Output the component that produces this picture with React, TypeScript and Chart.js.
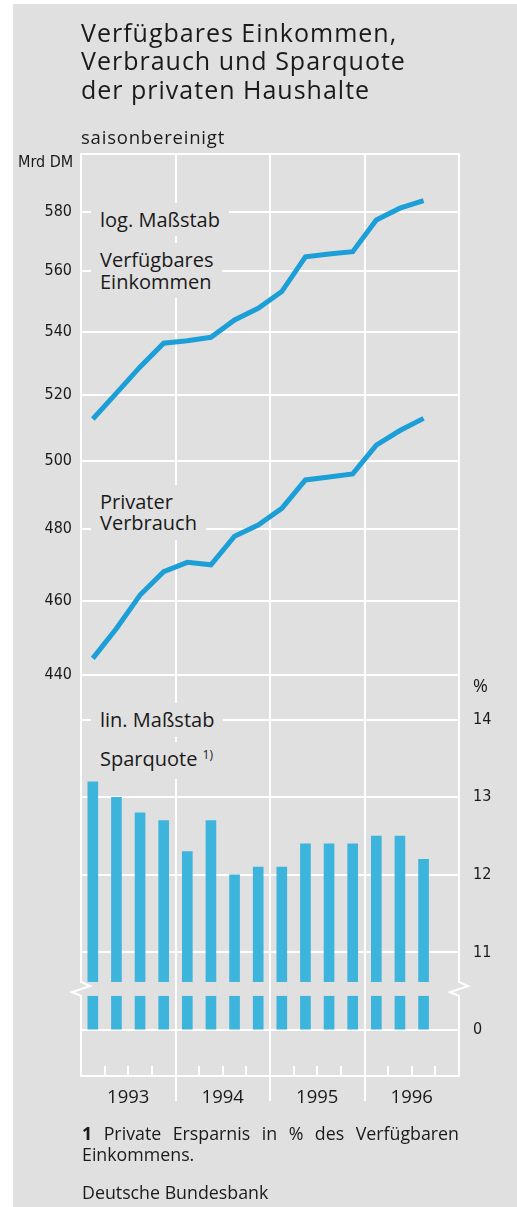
import React, { useEffect, useRef } from 'react';
import { Chart, registerables, LinearScale } from 'chart.js';

Chart.register(...registerables);

// ---------- data ----------
const quarterLabels = [
  '1993 Q1', '1993 Q2', '1993 Q3', '1993 Q4',
  '1994 Q1', '1994 Q2', '1994 Q3', '1994 Q4',
  '1995 Q1', '1995 Q2', '1995 Q3', '1995 Q4',
  '1996 Q1', '1996 Q2', '1996 Q3', '1996 Q4',
];
const yearLabels = ['1993', '1994', '1995', '1996'];
// Verfügbares Einkommen, Mrd DM (log scale)
const incomeValues = [512.6, 520.6, 528.8, 536.3, 537.1, 538.2, 543.8, 547.6, 553.1, 564.7, 565.6, 566.4, 577.2, 581.3, 583.9, null];
// Privater Verbrauch, Mrd DM (log scale)
const consumptionValues = [444.4, 452.4, 461.5, 468.0, 470.6, 469.9, 478.0, 481.2, 486.0, 494.3, 495.2, 496.1, 504.7, 509.1, 512.8, null];
// Sparquote, %
const savingRateValues = [13.2, 13.0, 12.8, 12.7, 12.3, 12.7, 12.0, 12.1, 12.1, 12.4, 12.4, 12.4, 12.5, 12.5, 12.2, null];
const logTicks = [440, 460, 480, 500, 520, 540, 560, 580];
const pctTicks = [0, 11, 12, 13, 14];

// ---------- styling ----------
const BG = '#e0e0e0';
const GRID = '#ffffff';
const LINE = '#1c9fd7';
const BAR = '#3db4db';
const TEXT = '#1a1a1a';
const SANS = "'Open Sans', 'Noto Sans', sans-serif";
const NARROW = "'Liberation Sans Narrow', 'DejaVu Sans Condensed', Roboto, sans-serif";

// broken percent axis: values between BREAK_LOW and BREAK_HIGH are cut out
const BREAK_LOW = 0.5;
const BREAK_HIGH = 10.5;
const CUT_TOP = 10.62;
const CUT_BOTTOM = 0.44;
const toU = (v: number) => (v <= BREAK_LOW ? v : v >= BREAK_HIGH ? v - (BREAK_HIGH - BREAK_LOW) : BREAK_LOW);
const fromU = (u: number) => (u <= BREAK_LOW ? u : u + (BREAK_HIGH - BREAK_LOW));

class BrokenLinearScale extends LinearScale {
  static id = 'brokenLinear';
  static defaults = {};
  determineDataLimits() {
    // @ts-ignore
    this.min = toU(this.options.min);
    // @ts-ignore
    this.max = toU(this.options.max);
  }
  buildTicks() {
    return pctTicks.map((v) => ({ value: v }));
  }
  getPixelForValue(value: any) {
    if (value === null || value === undefined) return NaN;
    return super.getPixelForValue(toU(value));
  }
  getValueForPixel(pixel: number) {
    return fromU(super.getValueForPixel(pixel));
  }
}
Chart.register(BrokenLinearScale as any);

const decorPlugin = {
  id: 'decor',
  afterDatasetsDraw(chart: any) {
    const { ctx, chartArea } = chart;
    const { left, right, top, bottom } = chartArea;
    const pct = chart.scales.yPct;
    const xs = chart.scales.x;
    const yA = pct.getPixelForValue(CUT_TOP);
    const yB = pct.getPixelForValue(CUT_BOTTOM);
    ctx.save();
    // cut the bars at the axis break
    ctx.fillStyle = BG;
    const meta = chart.getDatasetMeta(0);
    meta.data.forEach((bar: any) => {
      if (!bar || isNaN(bar.x) || isNaN(bar.y)) return;
      const w = bar.width;
      ctx.fillRect(bar.x - w / 2 - 1, yA, w + 2, yB - yA);
    });
    // frame with break marks
    ctx.strokeStyle = GRID;
    ctx.lineWidth = 2;
    ctx.lineJoin = 'miter';
    ctx.lineCap = 'square';
    ctx.beginPath();
    ctx.moveTo(left, top);
    ctx.lineTo(right, top);
    ctx.moveTo(left, bottom);
    ctx.lineTo(right, bottom);
    const h = yB - yA;
    [left, right].forEach((sx) => {
      ctx.moveTo(sx, top);
      ctx.lineTo(sx, yA);
      ctx.lineTo(sx + 9, yA + 0.3 * h);
      ctx.lineTo(sx - 9, yA + 0.72 * h);
      ctx.lineTo(sx, yB);
      ctx.lineTo(sx, bottom);
    });
    ctx.stroke();
    // quarter tick marks inside the bottom edge
    ctx.lineCap = 'butt';
    ctx.beginPath();
    for (let i = 1; i < quarterLabels.length; i++) {
      if (i % 4 === 0) continue;
      const xb = Math.round((xs.getPixelForTick(i - 1) + xs.getPixelForTick(i)) / 2);
      ctx.moveTo(xb, bottom - 10);
      ctx.lineTo(xb, bottom);
    }
    ctx.stroke();
    ctx.restore();
  },
};

const isYearLine = (c: any) => c && typeof c.index === 'number' && c.index > 0 && c.index % 4 === 0;

function ChartCanvas() {
  const ref = useRef<HTMLCanvasElement | null>(null);
  useEffect(() => {
    if (!ref.current) return;
    const chart = new Chart(ref.current, {
      type: 'bar',
      data: {
        labels: quarterLabels,
        datasets: [
          {
            type: 'bar',
            label: 'Sparquote',
            data: savingRateValues,
            yAxisID: 'yPct',
            backgroundColor: BAR,
            borderWidth: 0,
            barThickness: 10,
            order: 3,
          } as any,
          {
            type: 'line',
            label: 'Verfügbares Einkommen',
            data: incomeValues,
            yAxisID: 'yLog',
            borderColor: LINE,
            borderWidth: 5,
            pointRadius: 0,
            tension: 0,
            fill: false,
            borderJoinStyle: 'miter',
            order: 1,
          } as any,
          {
            type: 'line',
            label: 'Privater Verbrauch',
            data: consumptionValues,
            yAxisID: 'yLog',
            borderColor: LINE,
            borderWidth: 5,
            pointRadius: 0,
            tension: 0,
            fill: false,
            borderJoinStyle: 'miter',
            order: 2,
          } as any,
        ],
      },
      options: {
        responsive: false,
        animation: false,
        devicePixelRatio: 1,
        layout: { padding: { top: 154, left: 0, right: 0, bottom: 0 } },
        plugins: {
          legend: { display: false },
          tooltip: { enabled: false },
          title: { display: false },
        },
        scales: {
          x: {
            type: 'category',
            position: 'bottom',
            offset: true,
            grid: {
              offset: true,
              color: (c: any) => (isYearLine(c) ? GRID : 'rgba(0,0,0,0)'),
              tickColor: (c: any) => (isYearLine(c) ? GRID : 'rgba(0,0,0,0)'),
              lineWidth: 2,
              drawTicks: true,
              tickLength: 25,
            },
            border: { display: false },
            ticks: {
              autoSkip: false,
              maxRotation: 0,
              minRotation: 0,
              labelOffset: 11.8,
              padding: -14.5,
              color: TEXT,
              font: { family: SANS, size: 18.5 },
              callback: (_v: any, i: number) => (i % 4 === 1 ? yearLabels[Math.floor(i / 4)] : ''),
            },
            afterFit: (s: any) => {
              s.height = 131;
            },
          },
          yLog: {
            type: 'logarithmic',
            position: 'left',
            min: 346.4,
            max: 600.4,
            afterBuildTicks: (s: any) => {
              s.ticks = logTicks.map((v) => ({ value: v }));
            },
            grid: { color: GRID, lineWidth: 2, drawTicks: false },
            border: { display: false },
            ticks: {
              padding: 9,
              color: TEXT,
              font: { family: NARROW, size: 16 },
              callback: (v: any) => String(v),
            },
            afterFit: (s: any) => {
              s.width = 81;
            },
          },
          yPct: {
            type: 'brokenLinear',
            position: 'right',
            min: -0.592,
            max: 21.29,
            grid: { color: GRID, lineWidth: 2, drawTicks: false },
            border: { display: false },
            ticks: {
              padding: 14,
              color: TEXT,
              font: { family: NARROW, size: 16 },
              callback: (v: any) => String(v),
            },
            afterFit: (s: any) => {
              s.width = 58;
            },
          },
        } as any,
      },
      plugins: [decorPlugin],
    } as any);
    return () => chart.destroy();
  }, []);
  return <canvas ref={ref} width={517} height={1207} style={{ position: 'absolute', left: 0, top: 0 }} />;
}

const base: React.CSSProperties = {
  position: 'absolute',
  margin: 0,
  color: TEXT,
  fontFamily: SANS,
  whiteSpace: 'pre',
};

const boxStyle = (left: number, top: number): React.CSSProperties => ({
  ...base,
  left,
  top,
  padding: '6px 9px',
  background: BG,
  fontSize: 20,
  lineHeight: '21.7px',
});

export default function App() {
  return (
    <div style={{ position: 'relative', width: 517, height: 1207, background: '#ffffff', overflow: 'hidden' }}>
      <style>{'body{margin:0}'}</style>
      <div style={{ position: 'absolute', left: 13, top: 4, right: 0, bottom: 0, background: BG }} />
      <ChartCanvas />
      <div style={{ ...base, left: 81, top: 18, fontSize: 25, lineHeight: '28.3px', letterSpacing: '1px' }}>
        {'Verfügbares Einkommen,\nVerbrauch und Sparquote\nder privaten Haushalte'}
      </div>
      <div style={{ ...base, left: 81, top: 127.5, fontSize: 18.5, lineHeight: '18.5px', letterSpacing: '0.8px' }}>
        saisonbereinigt
      </div>
      <div style={{ ...base, left: 18, top: 154, fontSize: 16, lineHeight: '16px', fontFamily: NARROW }}>Mrd DM</div>
      <div style={{ ...base, left: 473, top: 676, fontSize: 18, lineHeight: '18px' }}>%</div>
      <div style={boxStyle(91, 202.5)}>log. Maßstab</div>
      <div style={boxStyle(91, 243)}>{'Verfügbares\nEinkommen'}</div>
      <div style={boxStyle(91, 484.5)}>{'Privater\nVerbrauch'}</div>
      <div style={boxStyle(91, 703)}>lin. Maßstab</div>
      <div style={boxStyle(91, 742)}>
        Sparquote{' '}
        <span style={{ fontSize: 12, position: 'relative', top: -7 }}>1)</span>
      </div>
      <div
        style={{
          ...base,
          whiteSpace: 'normal',
          left: 82,
          top: 1123,
          width: 377,
          fontSize: 17.8,
          lineHeight: '20.7px',
          textAlign: 'justify',
        }}
      >
        <b>1</b> Private Ersparnis in % des Verfügbaren Einkommens.
      </div>
      <div style={{ ...base, left: 82, top: 1181.5, fontSize: 17.8, lineHeight: '20.7px' }}>Deutsche Bundesbank</div>
    </div>
  );
}
